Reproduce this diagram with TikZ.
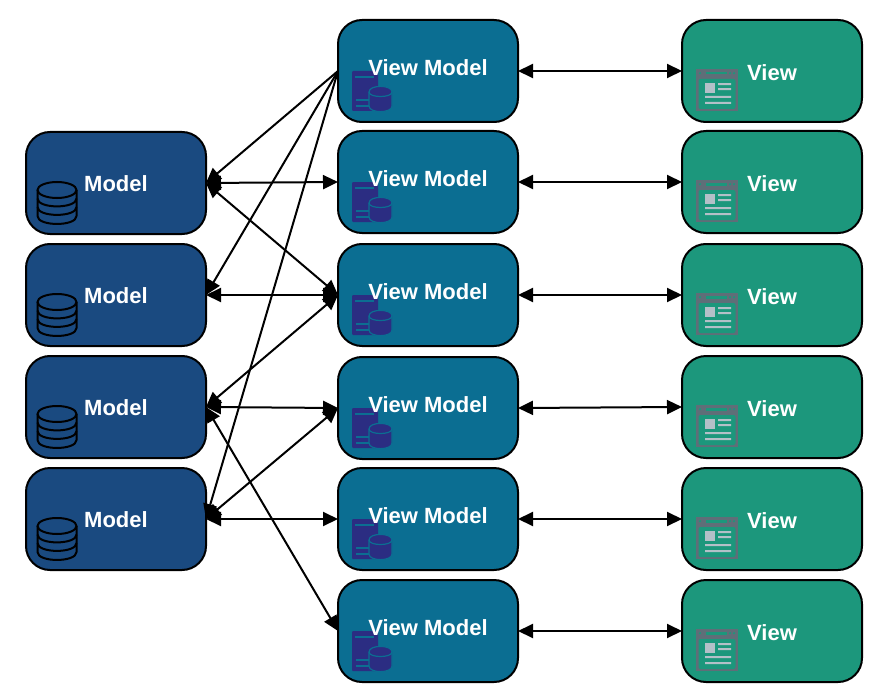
\documentclass[tikz,border=0pt]{standalone}
\usepackage{fontspec}
\setmainfont{Liberation Sans}
\usetikzlibrary{arrows.meta}
\definecolor{modelfill}{HTML}{1A4A80}
\definecolor{vmfill}{HTML}{0B6E92}
\definecolor{viewfill}{HTML}{1C977C}
\definecolor{vmicon}{HTML}{2B2D82}
\definecolor{viewicon}{HTML}{5F6E78}
\definecolor{viewlight}{HTML}{B4C0C8}
\tikzset{
  box/.style={draw=black,line width=2pt,rounded corners=24pt,minimum width=180pt,minimum height=102pt,inner sep=0pt,outer sep=0pt},
  modelbox/.style={box,fill=modelfill},
  vmbox/.style={box,fill=vmfill},
  viewbox/.style={box,fill=viewfill},
  boxtext/.style={text=white,font=\bfseries\fontsize{22}{26}\selectfont,inner sep=0pt},
  link/.style={draw=black,line width=2pt,{Triangle[length=15pt,width=14pt]}-{Triangle[length=15pt,width=14pt]}},
  onelink/.style={draw=black,line width=2pt,-{Triangle[length=15pt,width=14pt]}}
}
\newcommand{\dbicon}[1]{%
\begin{scope}[shift={(#1)},line width=2pt,draw=black]
  \draw (-59,7) circle [x radius=19.5,y radius=8];
  \draw (-78.5,7) -- (-78.5,33) .. controls (-78.5,43.6) and (-39.5,43.6) .. (-39.5,33) -- (-39.5,7);
  \draw (-78.5,15.5) .. controls (-78.5,26) and (-39.5,26) .. (-39.5,15.5);
  \draw (-78.5,24) .. controls (-78.5,34.5) and (-39.5,34.5) .. (-39.5,24);
\end{scope}}
\newcommand{\vmicn}[1]{%
\begin{scope}[shift={(#1)}]
  \fill[vmicon,rounded corners=1pt] (-76,0) rectangle (-50,40);
  \draw[vmfill,line width=1.2pt] (-73,6) -- (-54,6) (-72,29) -- (-58,29) (-72,35) -- (-58,35);
  \fill[vmicon,draw=vmfill,line width=1.2pt] (-59,21) -- (-59,35) .. controls (-59,42.5) and (-36,42.5) .. (-36,35) -- (-36,21) .. controls (-36,13.5) and (-59,13.5) .. (-59,21) -- cycle;
  \draw[vmfill,line width=1.2pt] (-59,21) .. controls (-59,27) and (-36,27) .. (-36,21);
\end{scope}}
\newcommand{\viewicn}[1]{%
\begin{scope}[shift={(#1)}]
  \fill[viewicon] (-76,-2) rectangle (-34,40);
  \fill[viewfill,rounded corners=2pt] (-73.5,8) rectangle (-36.5,38);
  \fill[viewfill] (-66,1) rectangle (-45,3.5);
  \fill[viewfill] (-72,2.2) circle (1.2) (-42,2.2) circle (1.2) (-38,2.2) circle (1.2);
  \fill[viewlight] (-67,12) rectangle (-57,22);
  \fill[viewlight] (-54,12.2) rectangle (-41,14.2) (-54,17.2) rectangle (-41,19.2)
     (-67,25) rectangle (-41,27) (-67,31) rectangle (-41,33);
\end{scope}}
\begin{document}
\begin{tikzpicture}[x=1pt,y=-1pt]
\useasboundingbox (0,0) rectangle (878,698);
% models
\foreach \n/\y in {1/183,2/295,3/407,4/519}{
  \node[modelbox] (m\n) at (116,\y) {};
}
% view models
\foreach \n/\y in {1/71,2/182,3/295,4/408,5/519,6/631}{
  \node[vmbox] (vm\n) at (428,\y) {};
}
\foreach \n/\y in {1/71,2/182,3/295,4/407,5/519,6/631}{
  \node[viewbox] (v\n) at (772,\y) {};
}
\foreach \n in {1,2,3,4}{\dbicon{m\n.center}
  \node[boxtext] (mt\n) at ([yshift=-1pt]m\n.center) {Model};}
\foreach \n in {1,...,6}{\vmicn{vm\n.center}\viewicn{v\n.center}}
\foreach \n in {1,...,6}{
  \node[boxtext] (vmt\n) at ([yshift=3pt]vm\n.center) {View Model};
  \node[boxtext] (vt\n) at ([yshift=-2pt]v\n.center) {View};
  \draw[link] (vm\n.east) -- (v\n.west);
}
% links
\draw[onelink] (vm1.west) -- (m1.east);
\draw[onelink] (vm1.west) -- (m2.east);
\draw[onelink] (vm1.west) -- (m4.east);
\draw[link] (m1.east) -- (vm2.west);
\draw[link] (m1.east) -- (vm3.west);
\draw[link] (m2.east) -- (vm3.west);
\draw[link] (m3.east) -- (vm3.west);
\draw[link] (m3.east) -- (vm4.west);
\draw[link] (m4.east) -- (vm4.west);
\draw[link] (m4.east) -- (vm5.west);
\draw[link] (m3.east) -- (vm6.west);
\end{tikzpicture}
\end{document}
